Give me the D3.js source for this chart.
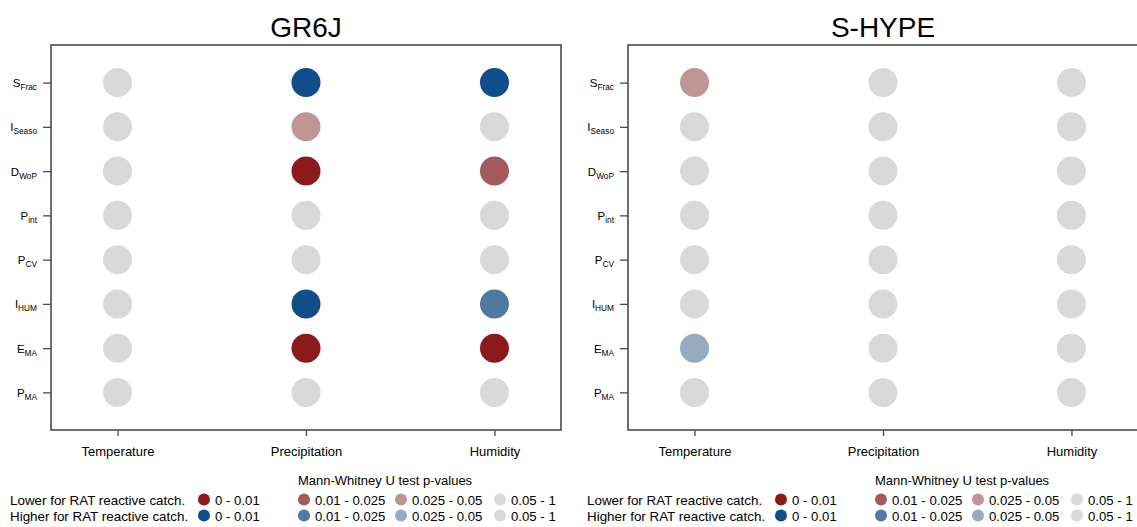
<!DOCTYPE html>
<html>
<head>
<meta charset="utf-8">
<script src="https://cdn.jsdelivr.net/npm/d3@7"></script>
<style>
  body { margin: 0; background: #fff; }
  svg { display: block; }
  text { font-family: "Liberation Sans", Arial, Helvetica, sans-serif; fill: #000; }
</style>
</head>
<body>
<svg id="chart" width="1137" height="527"></svg>
<script>
// Hydrological models (one panel each)
const models = ["GR6J", "S-HYPE"];
// Climate drivers on the x axis
const drivers = ["Temperature", "Precipitation", "Humidity"];
// Catchment indices on the y axis (top to bottom)
const indices = ["S_Frac", "I_Seaso", "D_WoP", "P_int", "P_CV", "I_HUM", "E_MA", "P_MA"];
const indexBase = ["S", "I", "D", "P", "P", "I", "E", "P"];
const indexSub = ["Frac", "Seaso", "WoP", "int", "CV", "HUM", "MA", "MA"];

// Mann-Whitney U test p-value class per index (rows) and driver (columns).
// L = lower for RAT reactive catchments, H = higher, 1/2/3 = p-value band, N = 0.05 - 1
const gr6jClasses = [
  ["N", "H1", "H1"],
  ["N", "L3", "N"],
  ["N", "L1", "L2"],
  ["N", "N", "N"],
  ["N", "N", "N"],
  ["N", "H1", "H2"],
  ["N", "L1", "L1"],
  ["N", "N", "N"]
];
const shypeClasses = [
  ["L3", "N", "N"],
  ["N", "N", "N"],
  ["N", "N", "N"],
  ["N", "N", "N"],
  ["N", "N", "N"],
  ["N", "N", "N"],
  ["H3", "N", "N"],
  ["N", "N", "N"]
];
const modelClasses = [gr6jClasses, shypeClasses];

// Legend content
const legendTitle = "Mann-Whitney U test p-values";
const legendRows = ["Lower for RAT reactive catch.", "Higher for RAT reactive catch."];
const legendRowClasses = [["L1", "L2", "L3", "N"], ["H1", "H2", "H3", "N"]];
const pBands = ["0 - 0.01", "0.01 - 0.025", "0.025 - 0.05", "0.05 - 1"];

const classKeys = ["L1", "L2", "L3", "H1", "H2", "H3", "N"];
const classColors = ["#8b1a1a", "#a35a5a", "#c09595", "#104e8b", "#4f7aa2", "#96aac0", "#d9d9d9"];
const color = d3.scaleOrdinal().domain(classKeys).range(classColors);

const svg = d3.select("#chart");
svg.append("rect").attr("width", 1137).attr("height", 527).attr("fill", "#fff");

const panelShift = 577;
const box = { x0: 51, x1: 561, y0: 45, y1: 430 };
const axisColor = "#4a4a4a";
const textColor = "#1a1a1a";

models.forEach((model, m) => {
  const g = svg.append("g").attr("transform", `translate(${m * panelShift},0)`);

  const x = d3.scalePoint().domain(drivers).range([box.x0, box.x1]).padding(0.353);
  const y = d3.scalePoint().domain(indices).range([box.y0, box.y1]).padding(0.85);

  // title
  g.append("text")
    .attr("x", (box.x0 + box.x1) / 2)
    .attr("y", 37)
    .attr("text-anchor", "middle")
    .style("font-size", "28px")
    .text(model);

  // points
  const cells = [];
  indices.forEach((idx, i) => drivers.forEach((drv, j) => {
    cells.push({ idx, drv, cls: modelClasses[m][i][j] });
  }));
  g.append("g").selectAll("circle").data(cells).join("circle")
    .attr("cx", d => x(d.drv))
    .attr("cy", d => y(d.idx))
    .attr("r", 14.5)
    .attr("fill", d => color(d.cls));

  // frame
  g.append("rect")
    .attr("x", box.x0).attr("y", box.y0)
    .attr("width", box.x1 - box.x0).attr("height", box.y1 - box.y0)
    .attr("fill", "none").attr("stroke", axisColor).attr("stroke-width", 1.6);

  // y axis with subscripted index names
  const yAxis = g.append("g")
    .attr("transform", `translate(${box.x0},0)`)
    .call(d3.axisLeft(y).tickSize(8).tickPadding(6).tickSizeOuter(0));
  yAxis.select(".domain").remove();
  yAxis.selectAll(".tick line").attr("stroke", axisColor).attr("stroke-width", 1.3);
  yAxis.selectAll(".tick text").each(function (d) {
    const i = indices.indexOf(d);
    const t = d3.select(this).text(null)
      .attr("dy", null).attr("y", 4)
      .style("font-size", "11.5px").attr("fill", textColor);
    t.append("tspan").text(indexBase[i]);
    t.append("tspan").attr("dy", 3).style("font-size", "8.3px").text(indexSub[i]);
  });

  // x axis
  const xAxis = g.append("g")
    .attr("transform", `translate(0,${box.y1})`)
    .call(d3.axisBottom(x).tickSize(6).tickPadding(14).tickSizeOuter(0));
  xAxis.select(".domain").remove();
  xAxis.selectAll(".tick line").attr("stroke", axisColor).attr("stroke-width", 1.3);
  xAxis.selectAll(".tick text").attr("dy", null).attr("y", 26)
    .style("font-size", "13px").attr("fill", textColor);

  // legend
  const lg = g.append("g");
  lg.append("text").attr("x", 298).attr("y", 485)
    .style("font-size", "13px").attr("fill", textColor).text(legendTitle);
  const swatchX = [204, 304, 401, 500];
  const rowY = [500, 516];
  legendRows.forEach((label, r) => {
    lg.append("text").attr("x", 10).attr("y", rowY[r] + 4.5)
      .style("font-size", "13.4px").attr("fill", textColor).text(label);
    legendRowClasses[r].forEach((cls, k) => {
      lg.append("circle").attr("cx", swatchX[k]).attr("cy", rowY[r] - 0.5)
        .attr("r", 6).attr("fill", color(cls));
      lg.append("text").attr("x", swatchX[k] + 11).attr("y", rowY[r] + 4.5)
        .style("font-size", "13.2px").attr("fill", textColor).text(pBands[k]);
    });
  });
});
</script>
</body>
</html>
